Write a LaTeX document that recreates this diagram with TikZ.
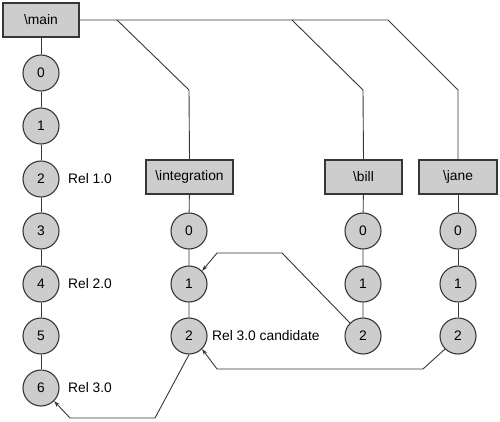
\documentclass[tikz,border=0pt]{standalone}
\usepackage{fontspec}
\setmainfont{Liberation Sans}
\usetikzlibrary{arrows.meta}
\definecolor{fillg}{RGB}{205,205,205}
\definecolor{lineg}{RGB}{55,55,55}
\begin{document}
\begin{tikzpicture}[x=1pt,y=-1pt,
  font=\fontsize{13.8}{16}\selectfont,
  branchbox/.style={draw=lineg,fill=fillg,line width=1.1pt,minimum height=34pt,inner sep=0pt},
  rev/.style={circle,draw=lineg,fill=fillg,line width=1.1pt,minimum size=36pt,inner sep=0pt},
  conn/.style={draw=lineg,line width=0.9pt},
  arr/.style={conn,-{Stealth[length=6pt,width=4pt]}},
  lbl/.style={anchor=west,inner sep=0pt}]
\useasboundingbox (0,0) rectangle (500,422);
% branch boxes
\node[branchbox,minimum width=76pt] (main) at (41,20) {\textbackslash main};
\node[branchbox,minimum width=87pt] (int) at (189.5,177) {\textbackslash integration};
\node[branchbox,minimum width=77pt] (bill) at (363.5,177) {\textbackslash bill};
\node[branchbox,minimum width=78pt] (jane) at (458,177) {\textbackslash jane};
% main chain
\foreach \i/\y in {0/73,1/126,2/179,3/231,4/284,5/336,6/388}
  \node[rev] (m\i) at (41,\y) {\i};
\foreach \i/\y in {0/231,1/284,2/336}{
  \node[rev] (i\i) at (189,\y) {\i};
  \node[rev] (b\i) at (363,\y) {\i};
  \node[rev] (j\i) at (458,\y) {\i};
}
% labels
\node[lbl] (r1) at (68,179) {Rel 1.0};
\node[lbl] (r2) at (68,284) {Rel 2.0};
\node[lbl] (r3) at (68,388) {Rel 3.0};
\node[lbl] (rc) at (212,336) {Rel 3.0 candidate};
% chains
\draw[conn] (main) -- (m0) -- (m1) -- (m2) -- (m3) -- (m4) -- (m5) -- (m6);
\draw[conn] (int) -- (i0) -- (i1) -- (i2);
\draw[conn] (bill) -- (b0) -- (b1) -- (b2);
\draw[conn] (jane) -- (j0) -- (j1) -- (j2);
% top branching lines
\coordinate (tI) at (117,20);
\coordinate (tB) at (292,20);
\coordinate (tJ) at (388,20);
\draw[conn] (main.east) -- (tJ) -- (458,90) -- (jane.north);
\draw[conn] (tI) -- (189,90) -- (int.north);
\draw[conn] (tB) -- (363,90) -- (bill.north);
% merge arrows
\draw[arr] (b2.north west) -- (282,253) -- (217,253) -- (i1.north east);
\draw[arr] (j2.south west) -- (423,369) -- (217,369) -- (i2.south east);
\draw[arr] (i2.south) -- (155,418) -- (70,418) -- (m6.south east);
\end{tikzpicture}
\end{document}
